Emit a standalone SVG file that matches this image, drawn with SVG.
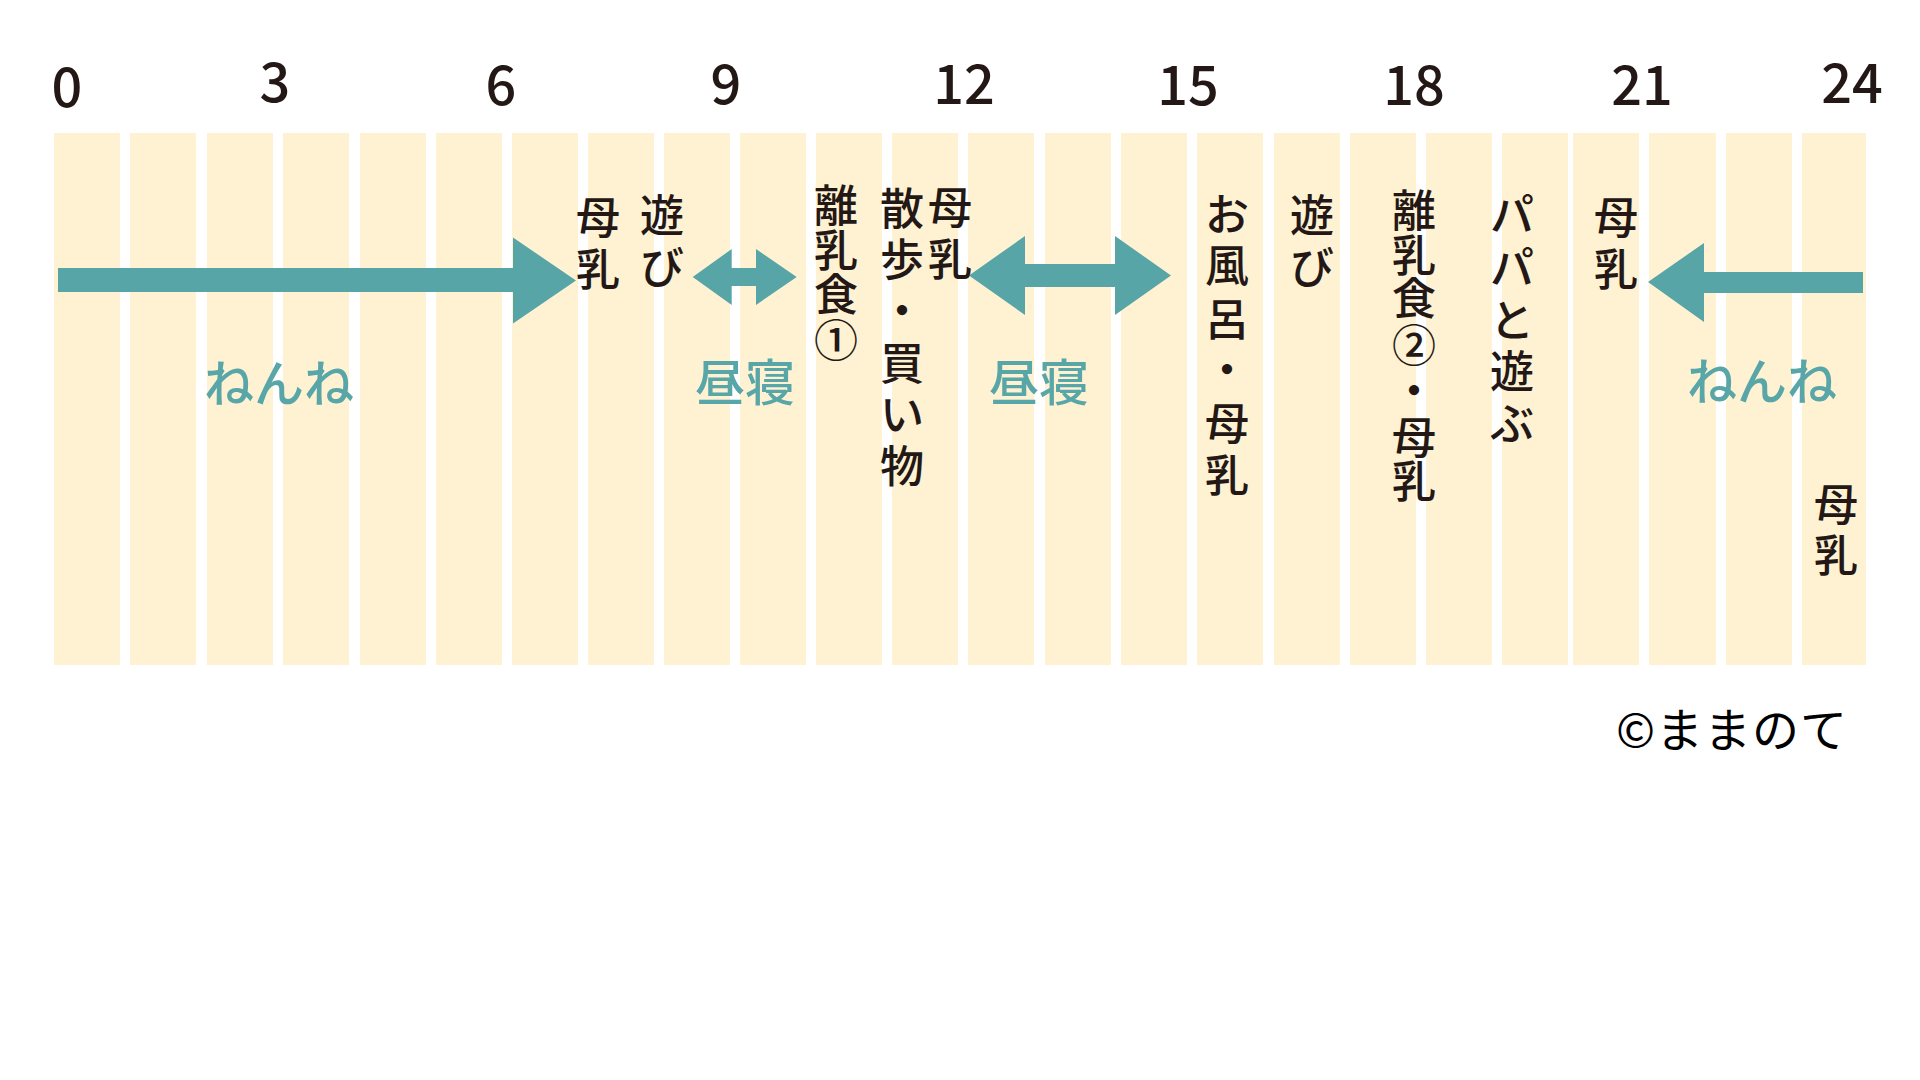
<svg xmlns="http://www.w3.org/2000/svg" width="1920" height="1080" viewBox="0 0 1920 1080">
<style>
.stripe{fill:#FEF2D3}
.hour{font-family:"Noto Sans CJK JP","Noto Sans",sans-serif;font-size:54px;font-weight:500;fill:#231815;text-anchor:middle}
.act{font-family:"Noto Sans CJK JP",sans-serif;font-size:44px;font-weight:500;fill:#231815;text-anchor:middle;dominant-baseline:central}
.sleep{font-family:"Noto Sans CJK JP",sans-serif;font-size:50px;font-weight:500;fill:#58A6A7;text-anchor:middle;dominant-baseline:central}
.arrow{fill:#57A5A6}
.copy{font-family:"Noto Sans CJK JP",sans-serif;font-size:47px;font-weight:400;fill:#000;text-anchor:middle;dominant-baseline:central;letter-spacing:1px}
</style>
<rect width="1920" height="1080" fill="#FFFFFF"/>
<g id="stripes">
<rect class="stripe" x="54" y="133" width="66" height="532"/>
<rect class="stripe" x="130" y="133" width="66" height="532"/>
<rect class="stripe" x="207" y="133" width="66" height="532"/>
<rect class="stripe" x="283" y="133" width="66" height="532"/>
<rect class="stripe" x="360" y="133" width="66" height="532"/>
<rect class="stripe" x="436" y="133" width="66" height="532"/>
<rect class="stripe" x="512" y="133" width="66" height="532"/>
<rect class="stripe" x="588" y="133" width="66" height="532"/>
<rect class="stripe" x="664" y="133" width="66" height="532"/>
<rect class="stripe" x="740" y="133" width="66" height="532"/>
<rect class="stripe" x="816" y="133" width="66" height="532"/>
<rect class="stripe" x="892" y="133" width="66" height="532"/>
<rect class="stripe" x="968" y="133" width="66" height="532"/>
<rect class="stripe" x="1045" y="133" width="66" height="532"/>
<rect class="stripe" x="1121" y="133" width="66" height="532"/>
<rect class="stripe" x="1197" y="133" width="66" height="532"/>
<rect class="stripe" x="1274" y="133" width="66" height="532"/>
<rect class="stripe" x="1350" y="133" width="66" height="532"/>
<rect class="stripe" x="1426" y="133" width="66" height="532"/>
<rect class="stripe" x="1502" y="133" width="66" height="532"/>
<rect class="stripe" x="1573" y="133" width="66" height="532"/>
<rect class="stripe" x="1649" y="133" width="67" height="532"/>
<rect class="stripe" x="1726" y="133" width="66" height="532"/>
<rect class="stripe" x="1802" y="133" width="64" height="532"/>
</g>
<g id="hours">
<text class="hour" x="67" y="107">0</text>
<text class="hour" x="275" y="102">3</text>
<text class="hour" x="501" y="105">6</text>
<text class="hour" x="726" y="104">9</text>
<text class="hour" x="964" y="104">12</text>
<text class="hour" x="1188" y="105">15</text>
<text class="hour" x="1414" y="105">18</text>
<text class="hour" x="1642" y="105">21</text>
<text class="hour" x="1852" y="103">24</text>
</g>
<g id="connectors">
<polygon class="arrow" points="58,268 513,268 513,237.5 576,280.5 513,323.5 513,292 58,292"/>
<polygon class="arrow" points="692.7,277 731.7,249 731.7,268 756,268 756,249 796.7,277 756,305 756,286 731.7,286 731.7,305"/>
<polygon class="arrow" points="969,275.5 1025,236 1025,264 1115,264 1115,236 1171,275.5 1115,315 1115,287 1025,287 1025,315"/>
<polygon class="arrow" points="1648,282 1704,243 1704,272 1863,272 1863,293 1704,293 1704,322"/>
</g>
<g id="sleep-night-1"><text class="sleep" x="279" y="380">ねんね</text></g>
<g id="nap-1"><text class="sleep" x="745" y="379">昼寝</text></g>
<g id="nap-2"><text class="sleep" x="1039" y="379">昼寝</text></g>
<g id="sleep-night-2"><text class="sleep" x="1762" y="378">ねんね</text></g>
<g id="act-7"><text class="act"><tspan x="598" y="215">母</tspan><tspan x="598" y="267">乳</tspan></text></g>
<g id="act-8"><text class="act"><tspan x="662" y="212.5">遊</tspan><tspan x="662" y="265">び</tspan></text></g>
<g id="act-11"><text class="act"><tspan x="836" y="203">離</tspan><tspan x="836" y="248">乳</tspan><tspan x="836" y="292">食</tspan><tspan x="836" y="337.5">①</tspan></text></g>
<g id="act-12a"><text class="act"><tspan x="902" y="206">散</tspan><tspan x="902" y="257">歩</tspan><tspan x="902" y="308">・</tspan><tspan x="902" y="361">買</tspan><tspan x="902" y="412">い</tspan><tspan x="902" y="464">物</tspan></text></g>
<g id="act-12b"><text class="act"><tspan x="950" y="205">母</tspan><tspan x="950" y="257">乳</tspan></text></g>
<g id="act-16"><text class="act"><tspan x="1227" y="212">お</tspan><tspan x="1227" y="263">風</tspan><tspan x="1227" y="317">呂</tspan><tspan x="1227" y="367">・</tspan><tspan x="1227" y="421">母</tspan><tspan x="1227" y="473">乳</tspan></text></g>
<g id="act-17"><text class="act"><tspan x="1312" y="213">遊</tspan><tspan x="1312" y="265">び</tspan></text></g>
<g id="act-19"><text class="act"><tspan x="1414" y="207.5">離</tspan><tspan x="1414" y="252.5">乳</tspan><tspan x="1414" y="296">食</tspan><tspan x="1414" y="342.5">②</tspan><tspan x="1414" y="388">・</tspan><tspan x="1414" y="435">母</tspan><tspan x="1414" y="479">乳</tspan></text></g>
<g id="act-20"><text class="act"><tspan x="1512" y="212">パ</tspan><tspan x="1512" y="265">パ</tspan><tspan x="1512" y="318">と</tspan><tspan x="1512" y="369">遊</tspan><tspan x="1512" y="421">ぶ</tspan></text></g>
<g id="act-21"><text class="act"><tspan x="1616" y="215">母</tspan><tspan x="1616" y="267">乳</tspan></text></g>
<g id="act-24"><text class="act"><tspan x="1836" y="502">母</tspan><tspan x="1836" y="553">乳</tspan></text></g>
<g id="copyright"><text class="copy" x="1732" y="726">©ままのて</text></g>
</svg>
